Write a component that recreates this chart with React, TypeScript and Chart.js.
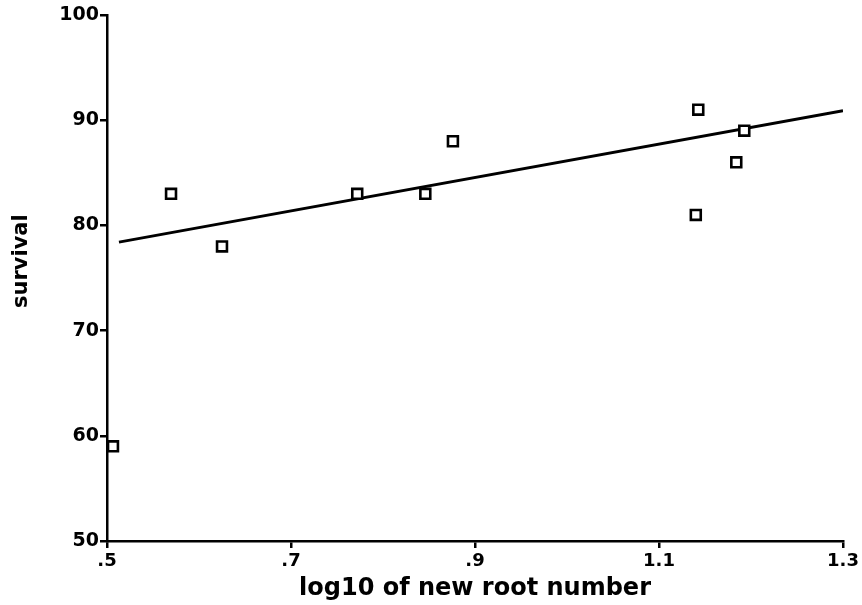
import React, { useEffect, useRef } from "react";
import { Chart, registerables } from "chart.js";

Chart.register(...registerables);

const rootLog10 = [0.5065, 0.5696, 0.625, 0.772, 0.846, 0.876, 1.140, 1.1427, 1.184, 1.1927];
const survival = [59, 83, 78, 83, 83, 88, 81, 91, 86, 89];
const fitX = [0.513, 1.3];
const fitY = [78.4, 90.9];
const xTickValues = [0.5, 0.7, 0.9, 1.1, 1.3];
const xTickLabels = [".5", ".7", ".9", "1.1", "1.3"];
const yTickValues = [50, 60, 70, 80, 90, 100];
const xTitle = "log10 of new root number";
const yTitle = "survival";

const FONT = "'DejaVu Sans', sans-serif";

const titlesPlugin = {
  id: "axisTitles",
  afterDraw(chart: any) {
    const { ctx, chartArea } = chart;
    ctx.save();
    ctx.fillStyle = "#000";
    ctx.font = `bold 24px ${FONT}`;
    ctx.textAlign = "center";
    ctx.textBaseline = "alphabetic";
    ctx.fillText(xTitle, (chartArea.left + chartArea.right) / 2, chartArea.bottom + 54);
    ctx.translate(22, chartArea.top + (chartArea.bottom - chartArea.top) * 0.468);
    ctx.rotate(-Math.PI / 2);
    ctx.font = `bold 21px ${FONT}`;
    ctx.textBaseline = "middle";
    ctx.fillText(yTitle, 0, 0);
    ctx.restore();
  },
};

export default function App() {
  const ref = useRef<HTMLCanvasElement>(null);
  useEffect(() => {
    if (!ref.current) return;
    const chart = new Chart(ref.current, {
      type: "scatter",
      data: {
        datasets: [
          {
            data: rootLog10.map((x, i) => ({ x, y: survival[i] })),
            pointStyle: "rect",
            pointRadius: 7,
            pointBorderWidth: 2.6,
            pointBorderColor: "#000",
            pointBackgroundColor: "#fff",
            showLine: false,
          },
          {
            data: fitX.map((x, i) => ({ x, y: fitY[i] })),
            showLine: true,
            borderColor: "#000",
            borderWidth: 2.8,
            pointRadius: 0,
          },
        ],
      },
      options: {
        responsive: false,
        animation: false,
        layout: { padding: { left: 0, top: 15, right: 19, bottom: 0 } },
        plugins: { legend: { display: false }, tooltip: { enabled: false } },
        scales: {
          x: {
            type: "linear",
            min: 0.5,
            max: 1.3,
            afterBuildTicks: (s: any) => {
              s.ticks = xTickValues.map((v) => ({ value: v }));
            },
            afterFit: (s: any) => {
              s.height = 64;
            },
            ticks: {
              color: "#000",
              font: { family: FONT, size: 18, weight: "bold" },
              padding: 3,
              maxRotation: 0,
              callback: (_v: any, i: number) => xTickLabels[i],
            },
            grid: { drawOnChartArea: false, drawTicks: true, tickLength: 7, color: "#000", lineWidth: 2.5 },
            border: { display: true, color: "#000", width: 2.5 },
          },
          y: {
            type: "linear",
            min: 50,
            max: 100,
            afterBuildTicks: (s: any) => {
              s.ticks = yTickValues.map((v) => ({ value: v }));
            },
            afterFit: (s: any) => {
              s.width = 107;
            },
            ticks: {
              color: "#000",
              font: { family: FONT, size: 19, weight: "bold" },
              padding: 1,
              callback: (v: any) => String(v),
            },
            grid: { drawOnChartArea: false, drawTicks: true, tickLength: 7, color: "#000", lineWidth: 2.5 },
            border: { display: true, color: "#000", width: 2.5 },
          },
        },
      },
      plugins: [titlesPlugin],
    });
    return () => chart.destroy();
  }, []);
  return (
    <div style={{ position: "fixed", left: 0, top: 0, width: 862, height: 605, background: "#fff" }}>
      <canvas ref={ref} width={862} height={605} />
    </div>
  );
}
